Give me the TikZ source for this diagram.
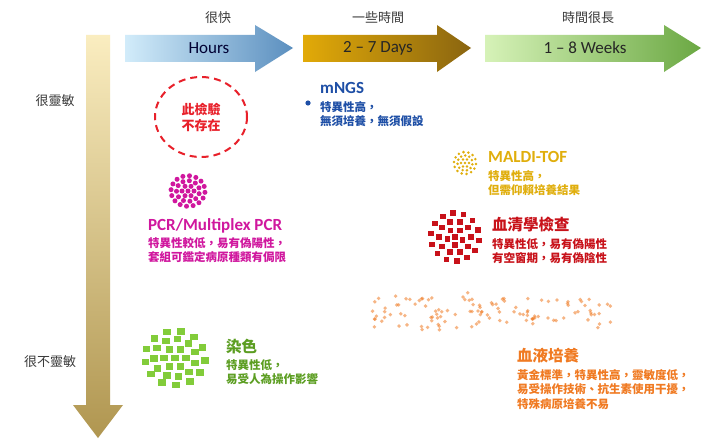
\documentclass[tikz,border=0pt]{standalone}
\usepackage{fontspec}
\usetikzlibrary{calc}
\setmainfont{Carlito}
\newfontfamily\cjk{Noto Sans CJK TC}
\definecolor{hourA}{HTML}{D2ECFA}
\definecolor{hourB}{HTML}{5B8FBF}
\definecolor{dayA}{HTML}{E2AA08}
\definecolor{dayB}{HTML}{8A6510}
\definecolor{weekA}{HTML}{D6F2B8}
\definecolor{weekB}{HTML}{6BA843}
\definecolor{axA}{HTML}{FAEDC0}
\definecolor{axB}{HTML}{B09650}
\definecolor{redc}{HTML}{E8202A}
\definecolor{bluec}{HTML}{1E4FA6}
\definecolor{magc}{HTML}{D0179E}
\definecolor{goldc}{HTML}{E0AE0C}
\definecolor{serc}{HTML}{C8121A}
\definecolor{orc}{HTML}{F07A22}
\definecolor{grc}{HTML}{82CC3A}
\definecolor{grt}{HTML}{5C9E22}
\definecolor{grayt}{HTML}{3A3A3A}
\tikzset{
  toplab/.style={font=\cjk\fontsize{13}{15}\selectfont, text=grayt},
  sidelab/.style={font=\cjk\fontsize{13}{15}\selectfont, text=grayt},
  arrlab/.style={font=\fontsize{17}{19}\selectfont, text=black!85},
  title/.style={anchor=west, inner sep=0pt, font=\bfseries\fontsize{17}{19}\selectfont},
  ctitle/.style={anchor=west, inner sep=0pt, font=\cjk\bfseries\fontsize{15.5}{17}\selectfont},
  desc/.style={anchor=north west, inner sep=0pt, align=left, font=\cjk\bfseries\fontsize{11.5}{14.5}\selectfont},
}
\begin{document}
\begin{tikzpicture}[x=1pt,y=-1pt]
\useasboundingbox (0,0) rectangle (725,444);
\fill[white] (0,0) rectangle (725,444);
% vertical axis arrow
\shade[top color=axA, bottom color=axB] (86,35) -- (110,35) -- (110,405) -- (123,405) -- (98,438) -- (73,405) -- (86,405) -- cycle;
\node[sidelab] (sens) at (55,101) {很靈敏};
\node[sidelab] (insens) at (50,362) {很不靈敏};
% horizontal arrows
\shade[left color=hourA, right color=hourB] (125,35) -- (255,35) -- (255,25) -- (293,48) -- (255,72) -- (255,62) -- (125,62) -- cycle;
\shade[left color=dayA, right color=dayB] (303,35) -- (437,35) -- (437,25) -- (471,48) -- (437,72) -- (437,62) -- (303,62) -- cycle;
\shade[left color=weekA, right color=weekB] (485,35) -- (664,35) -- (664,25) -- (701,48) -- (664,72) -- (664,62) -- (485,62) -- cycle;
\node[arrlab, text=black!80!blue] (hours) at (209,48) {Hours};
\node[arrlab] (days) at (378,48) {2 – 7 Days};
\node[arrlab] (weeks) at (585,48) {1 – 8 Weeks};
\node[toplab] (fast) at (218,18) {很快};
\node[toplab] (some) at (378,18) {一些時間};
\node[toplab] (long) at (588,18) {時間很長};
% dashed ellipse
\draw[redc, line width=2pt, dash pattern=on 7pt off 5pt] (201,117) ellipse [x radius=46, y radius=40];
\node[align=center, text=redc, font=\cjk\bfseries\fontsize{13}{16}\selectfont] (none) at (201,117) {此檢驗\\不存在};
% mNGS
\fill[bluec] (308,103) circle (2.6);
\node[title, text=bluec] (mngs) at (320,88) {mNGS};
\node[desc, text=bluec] (mngsd) at (320,101) {特異性高，\\無須培養，無須假設};
% PCR
\foreach \r/\n/\o in {0/1/0, 6/6/0, 11.5/11/15, 17/16/5}{
  \foreach \k in {1,...,\n}{
    \fill[magc] ($(188,191)+({\r*cos(\o+360*\k/\n)},{0.9*\r*sin(\o+360*\k/\n)})$) circle (2.5);
  }
}
\node[title, text=magc] (pcr) at (148,226) {PCR/Multiplex PCR};
\node[desc, text=magc] (pcrd) at (148,237) {特異性較低，易有偽陽性，\\套組可鑑定病原種類有侷限};
% MALDI-TOF
\foreach \r/\n/\o in {0/1/0, 4/6/0, 7.5/11/10, 11/14/5}{
  \foreach \k in {1,...,\n}{
    \fill[goldc] ($(465,163)+({\r*cos(\o+360*\k/\n)},{\r*sin(\o+360*\k/\n)})$) circle (1.4);
  }
}
\node[title, text=goldc] (maldi) at (488,157) {MALDI-TOF};
\node[desc, text=goldc] (maldid) at (488,170) {特異性高，\\但需仰賴培養結果};
% serology
\foreach \r/\n/\o in {0/1/0, 8/5/20, 16/10/0, 24/14/8}{
  \foreach \k in {1,...,\n}{
    \fill[serc] ($(455,237)+({\r*cos(\o+360*\k/\n)},{\r*sin(\o+360*\k/\n)})$) +(-2.8,-2.8) rectangle +(2.8,2.8);
  }
}
\node[ctitle, text=serc] (sero) at (492,225) {血清學檢查};
\node[desc, text=serc] (serod) at (492,238) {特異性低，易有偽陽性\\有空窗期，易有偽陰性};
% blood culture scatter
\pgfmathsetseed{23}
\foreach \i in {1,...,120}{
  \pgfmathsetmacro{\px}{372+240*rnd}
  \pgfmathsetmacro{\py}{312+22*(rnd+rnd-1)}
  \fill[orc, opacity=0.55] (\px,\py) circle (1.9);
}
\node[ctitle, text=orc] (blood) at (517,356) {血液培養};
\node[desc, text=orc] (bloodd) at (517,369) {黃金標準，特異性高，靈敏度低，\\易受操作技術、抗生素使用干擾，\\特殊病原培養不易};
% staining
\foreach \r/\n/\o in {0/1/0, 11/6/0, 21/11/15, 30/13/5}{
  \foreach \k in {1,...,\n}{
    \fill[grc] ($(175,358)+({\r*cos(\o+360*\k/\n)},{0.9*\r*sin(\o+360*\k/\n)})$) +(-3.8,-3.2) rectangle +(3.8,3.2);
  }
}
\node[ctitle, text=grt] (stain) at (226,347) {染色};
\node[desc, text=grt] (staind) at (226,359) {特異性低，\\易受人為操作影響};
\end{tikzpicture}
\end{document}
